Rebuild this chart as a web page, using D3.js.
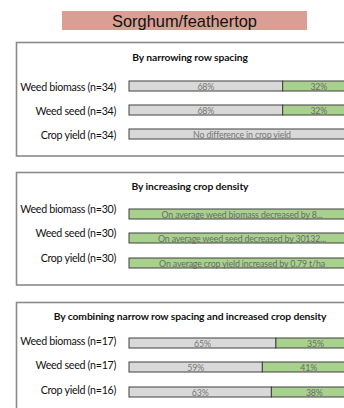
<!DOCTYPE html>
<html><head><meta charset="utf-8">
<script src="https://cdn.jsdelivr.net/npm/d3@7"></script>
<style>body{margin:0;background:#fff}svg{display:block}</style>
</head><body>
<script>
const chartTitle = "Sorghum/feathertop";
const panelTitles = ["By narrowing row spacing","By increasing crop density","By combining narrow row spacing and increased crop density"];
const categories = ["Weed biomass","Weed seed","Crop yield"];
const nValues = [[34,34,34],[30,30,30],[17,17,16]];
// share of studies: [no effect / negative (grey), positive (green)]
const greyPct = [[68,68,100],[0,0,0],[65,59,63]];
const greenPct = [[32,32,0],[100,100,100],[35,41,38]];
const greyLabels = [["68%","68%","No difference in crop yield"],["","",""],["65%","59%","63%"]];
const greenLabels = [["32%","32%",""],["On average weed biomass decreased by 8...","On average weed seed decreased by 30132...","On average crop yield increased by 0.79 t/ha"],["35%","41%","38%"]];

const W=344,H=408;
const svg=d3.select("body").append("svg").attr("width",W).attr("height",H);
const x=d3.scaleLinear().domain([0,100]).range([129,355]);

// title
svg.append("rect").attr("x",62).attr("y",11).attr("width",245).attr("height",19).attr("fill","#d99f94");
svg.append("text").attr("x",184.5).attr("y",21).attr("text-anchor","middle").attr("dominant-baseline","central")
 .attr("font-family","Liberation Sans, Arial").attr("font-size",16.4).attr("fill","#111").text(chartTitle);

const panels=[
 {top:42.5,bottom:156,titleY:57,labelDy:[5,5,5],barY:[81,105,129]},
 {top:172.5,bottom:285,titleY:186,labelDy:[-1,-1,-1],barY:[209,233,258]},
 {top:302.5,bottom:414,titleY:316,labelDy:[2,2,2],barY:[338,362,387]}
];
const barH=10;
const font="Lato, Carlito, Calibri, sans-serif";

panels.forEach((p,i)=>{
  const g=svg.append("g");
  g.append("rect").attr("x",16.5).attr("y",p.top).attr("width",360).attr("height",p.bottom-p.top)
   .attr("fill","#fff").attr("stroke","#8a8a8a").attr("stroke-width",1.6);
  g.append("text").attr("x",190).attr("y",p.titleY).attr("text-anchor","middle").attr("dominant-baseline","central")
   .attr("font-family",font).attr("font-weight","bold").attr("font-size",10.3).attr("letter-spacing",-0.1).attr("fill","#111").text(panelTitles[i]);
  categories.forEach((c,j)=>{
    const y=p.barY[j];
    g.append("text").attr("x",116).attr("y",y+p.labelDy[j]).attr("text-anchor","end").attr("dominant-baseline","central")
     .attr("font-family",font).attr("font-size",10.7).attr("letter-spacing",-0.3).attr("fill","#111").text(`${c} (n=${nValues[i][j]})`);
    const gv=greyPct[i][j], gr=greenPct[i][j];
    if(gv>0){
      g.append("rect").attr("x",x(0)).attr("y",y).attr("width",x(gv)-x(0)).attr("height",barH)
       .attr("fill","#d9d9d9").attr("stroke","#404040").attr("stroke-width",1);
      g.append("text").attr("x",(x(0)+x(gv))/2).attr("y",y+barH/2+0.5).attr("text-anchor","middle").attr("dominant-baseline","central")
       .attr("font-family",font).attr("font-size",8.8).attr("letter-spacing",-0.15).attr("fill","#767676").text(greyLabels[i][j]);
    }
    if(gr>0){
      g.append("rect").attr("x",x(gv)).attr("y",y).attr("width",x(gv+gr)-x(gv)).attr("height",barH)
       .attr("fill","#a9d18e").attr("stroke","#404040").attr("stroke-width",1);
      g.append("text").attr("x",(x(gv)+x(gv+gr))/2).attr("y",y+barH/2+0.5).attr("text-anchor","middle").attr("dominant-baseline","central")
       .attr("font-family",font).attr("font-size",8.8).attr("letter-spacing",-0.15).attr("fill","#6a6a6a").text(greenLabels[i][j]);
    }
  });
});
</script>
</body></html>
